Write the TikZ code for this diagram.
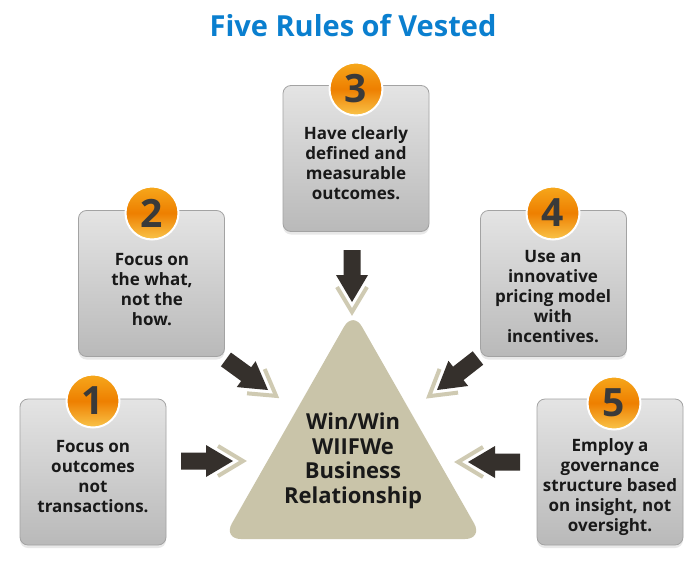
\documentclass[tikz,border=0pt]{standalone}
\usepackage{fontspec}
\setmainfont{Open Sans}
\usetikzlibrary{shadows}
\definecolor{titleblue}{HTML}{0A7FCF}
\definecolor{arrdark}{HTML}{35302C}
\definecolor{chev}{HTML}{CFCAB2}
\definecolor{tri}{HTML}{C9C4A9}
\definecolor{numgray}{HTML}{3A3A3A}
\definecolor{orangeA}{HTML}{F6A81C}
\definecolor{orangeB}{HTML}{EE7F00}
\definecolor{orangeC}{HTML}{F9C44A}
\definecolor{boxtop}{HTML}{E4E4E4}
\definecolor{boxbot}{HTML}{B9B9B9}
\definecolor{boxedge}{HTML}{A3A3A3}
\tikzset{
  rulebox/.style={rounded corners=8pt, minimum width=146pt, minimum height=146pt, inner sep=0pt,
    draw=boxedge, line width=0.8pt, top color=boxtop, bottom color=boxbot,
    drop shadow={opacity=0.18, shadow xshift=0pt, shadow yshift=-3pt}},
  numcirc/.style={circle, minimum size=53pt, inner sep=0pt, draw=white, line width=2pt,
    top color=orangeA, bottom color=orangeC, middle color=orangeB,
    font=\fontsize{39}{39}\selectfont\bfseries, text=numgray},
  ruletext/.style={align=center, font=\fontsize{17}{20}\selectfont\bfseries, text=black!90},
  pics/inarrow/.style={code={
    \fill[arrdark] (0,0) -- (-27,-16) -- (-27,-8.5) -- (-52,-8.5) -- (-52,8.5) -- (-27,8.5) -- (-27,16) -- cycle;
    \draw[chev, line width=4pt, line join=miter] (-15,-15) -- (10,0) -- (-15,15);
  }}
}
\begin{document}
\begin{tikzpicture}[x=1pt, y=-1pt]
\useasboundingbox (0,0) rectangle (695,570);
\fill[white] (0,0) rectangle (695,570);
% title
\node[font=\fontsize{29}{29}\selectfont\bfseries, text=titleblue, anchor=base] (title) at (353,36) {Five Rules of Vested};
% triangle
\fill[tri, rounded corners=18pt] (353,311) -- (483,539) -- (223,539) -- cycle;
\node[font=\fontsize{22}{24.5}\selectfont\bfseries, align=center, text=black!90] (hub) at (353,461) {Win/Win\\WIIFWe\\Business\\Relationship};
% boxes
\node[rulebox] (b1) at (93,472) {};
\node[rulebox] (b2) at (151.5,283.5) {};
\node[rulebox] (b3) at (356,158.5) {};
\node[rulebox] (b4) at (553.5,283.5) {};
\node[rulebox] (b5) at (610,472) {};
% circles
\node[numcirc] (c1) at (93,401) {1};
\node[numcirc] (c2) at (152,213) {2};
\node[numcirc] (c3) at (356,89) {3};
\node[numcirc] (c4) at (553,213) {4};
\node[numcirc] (c5) at (614,403) {5};
% texts
\node[ruletext] (t1) at (93,477) {Focus on\\outcomes\\not\\transactions.};
\node[ruletext] (t2) at (152,290) {Focus on\\the what,\\not the\\how.};
\node[ruletext] (t3) at (356,163) {Have clearly\\defined and\\measurable\\outcomes.};
\node[ruletext] (t4) at (553,297) {Use an\\innovative\\pricing model\\with\\incentives.};
\node[ruletext] (t5) at (610,487) {Employ a\\governance\\structure based\\on insight, not\\oversight.};
% arrows
\pic[rotate=0] at (233,461) {inarrow};
\pic[rotate=-36] at (268,390) {inarrow};
\pic[rotate=-90] at (352,302) {inarrow};
\pic[rotate=-142] at (437,390) {inarrow};
\pic[rotate=180] at (468,462) {inarrow};
\end{tikzpicture}
\end{document}
